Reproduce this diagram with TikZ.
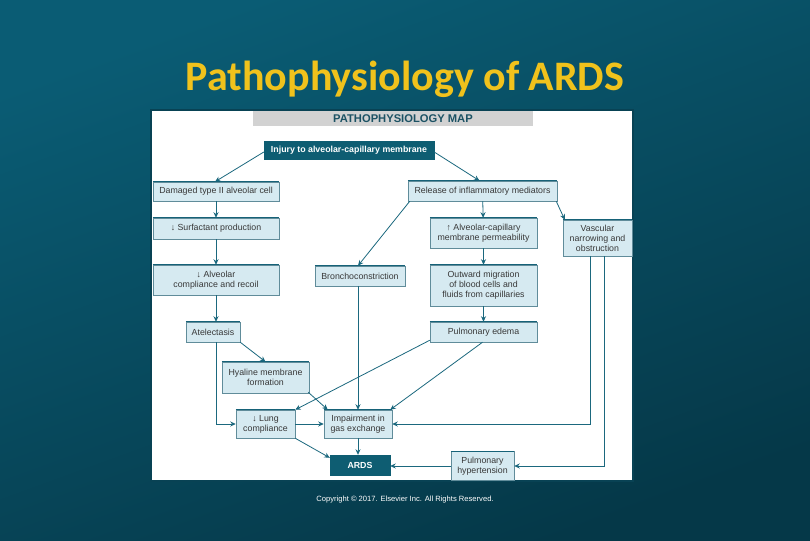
\documentclass[tikz,border=0pt]{standalone}
\usepackage{fontspec}
\setmainfont{Liberation Sans}
\newfontfamily\titlefont{Carlito}
\usetikzlibrary{arrows.meta,calc}
\definecolor{bgtop}{RGB}{10,92,116}
\definecolor{bgbot}{RGB}{5,56,72}
\definecolor{panelrim}{RGB}{8,66,84}
\definecolor{titlecol}{RGB}{240,194,28}
\definecolor{boxfill}{RGB}{214,234,241}
\definecolor{boxline}{RGB}{96,140,154}
\definecolor{boxtop}{RGB}{22,98,120}
\definecolor{darkfill}{RGB}{14,93,114}
\definecolor{arrcol}{RGB}{27,104,126}
\definecolor{headgray}{RGB}{210,210,210}
\definecolor{headtext}{RGB}{28,82,100}
\tikzset{
  box/.style={draw=boxline, line width=0.5pt, fill=boxfill, text=black!78,
    font=\fontsize{8.8}{10}\selectfont, align=center, inner sep=1pt},
  darkbox/.style={fill=darkfill, draw=darkfill, text=white,
    font=\bfseries\fontsize{8.8}{10}\selectfont, align=center, inner sep=1pt},
  arr/.style={draw=arrcol, line width=0.8pt, -{Stealth[length=5.5pt,width=5pt]}},
  topedge/.style={draw=boxtop, line width=1.4pt}
}
\begin{document}
\begin{tikzpicture}[x=1pt,y=-1pt]
\useasboundingbox (0,0) rectangle (810,540);
\shade[shading=axis, top color=bgtop, bottom color=bgbot, shading angle=20] (0,0) rectangle (810,540);
% title
\node[font=\titlefont\bfseries\fontsize{42}{46}\selectfont, text=titlecol, anchor=base] (title) at (405,90.5) {Pathophysiology of ARDS};
% panel
\draw[fill=white, draw=panelrim, line width=2.5pt] (151,110) rectangle (633,481);
\fill[headgray] (253,111) rectangle (533,126);
\node[font=\bfseries\fontsize{11.2}{12}\selectfont, text=headtext] (head) at (403,118.5) {PATHOPHYSIOLOGY MAP};
% nodes
\node[darkbox, minimum width=170, minimum height=18] (inj) at (349,150) {Injury to alveolar-capillary membrane};
\node[box, minimum width=126, minimum height=19] (dam) at (216,191.5) {Damaged type II alveolar cell};
\node[box, minimum width=149, minimum height=20] (rel) at (482.5,191) {Release of inflammatory mediators};
\node[box, minimum width=126, minimum height=21] (surf) at (216,228.5) {↓ Surfactant production};
\node[box, minimum width=107, minimum height=30] (perm) at (483.5,233) {↑ Alveolar-capillary\\membrane permeability};
\node[box, minimum width=69, minimum height=36] (vasc) at (597.5,238) {Vascular\\narrowing and\\obstruction};
\node[box, minimum width=126, minimum height=30] (comp) at (216,280) {↓ Alveolar\\compliance and recoil};
\node[box, minimum width=90, minimum height=20] (bron) at (360,276) {Bronchoconstriction};
\node[box, minimum width=107, minimum height=41] (out) at (483.5,285.5) {Outward migration\\of blood cells and\\fluids from capillaries};
\node[box, minimum width=54, minimum height=20] (atel) at (213,332) {Atelectasis};
\node[box, minimum width=107, minimum height=20] (edema) at (483.5,332) {Pulmonary edema};
\node[box, minimum width=87, minimum height=31] (hyal) at (265.5,377.5) {Hyaline membrane\\formation};
\node[box, minimum width=59, minimum height=28] (lung) at (265.5,424) {↓ Lung\\compliance};
\node[box, minimum width=68, minimum height=28] (imp) at (358,424) {Impairment in\\gas exchange};
\node[darkbox, minimum width=60, minimum height=20] (ards) at (360,465) {ARDS};
\node[box, minimum width=63, minimum height=29] (ph) at (482.5,466) {Pulmonary\\hypertension};
% top edges
\foreach \n in {dam,rel,surf,perm,vasc,comp,bron,out,atel,edema,hyal,lung,imp,ph}
  \draw[topedge] (\n.north west) -- (\n.north east);
% connectors
\draw[arr] ([yshift=-2]inj.west) -- ([xshift=-1]dam.north);
\draw[arr] ([yshift=-2]inj.east) -- ([xshift=-3]rel.north);
\draw[arr] (dam) -- (surf);
\draw[arr] (surf) -- (comp);
\draw[arr] (comp.south) -- (comp.south |- atel.north);
\draw[arr] (atel.south east) -- (hyal.north);
\draw[arr] (atel.south -| comp.south) |- (lung.west);
\draw[arr] (rel) -- (perm);
\draw[arr] ([xshift=2]rel.south west) -- ([xshift=-2]bron.north);
\draw[arr] ([xshift=-1]rel.south east) -- ([xshift=2]vasc.north west);
\draw[arr] (perm) -- (out);
\draw[arr] (out) -- (edema);
\draw[arr] (imp.north |- bron.south) -- (imp.north);
\draw[arr] ([yshift=2]edema.south west) -- (lung.north east);
\draw[arr] ([xshift=-1]edema.south) -- ([xshift=-2]imp.north east);
\draw[arr] ([xshift=-1,yshift=1]hyal.south east) -- ([xshift=4]imp.north west);
\draw[arr] (lung) -- (imp);
\draw[arr] (lung.south east) -- ([yshift=-3]ards.north west);
\draw[arr] (imp.south) -- (imp.south |- ards.north);
\draw[arr] ([xshift=-7]vasc.south) |- (imp.east);
\draw[arr] ([xshift=7]vasc.south) |- (ph.east);
\draw[arr] (ph.west) -- (ph.west -| ards.east);
% copyright
\node[text=white, font=\fontsize{7.6}{9}\selectfont] (copy) at (405,500) {Copyright © 2017. Elsevier Inc. All Rights Reserved.};
\end{tikzpicture}
\end{document}
